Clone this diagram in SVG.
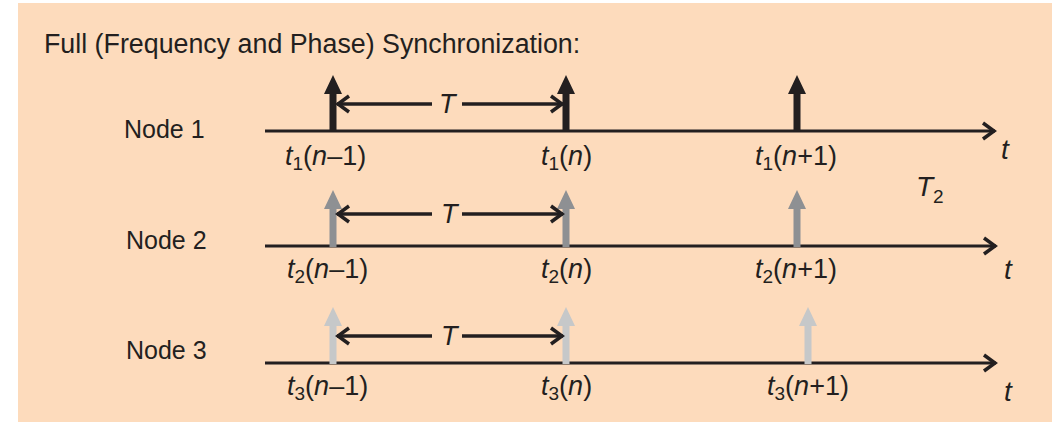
<svg xmlns="http://www.w3.org/2000/svg" width="1052" height="422" viewBox="0 0 1052 422">
<defs>
<style>
text{font-family:"Liberation Sans",Arial,sans-serif;fill:#231F20}
.title{font-size:26.8px}
.node{font-size:25px}
.lab{font-size:27px}
.big{font-size:28px}
.it{font-style:italic}
.sub{font-size:19px}
.axis{stroke:#231F20;stroke-width:3;fill:none}
.per{stroke:#231F20;stroke-width:3.5;fill:none}
.p1{fill:#231F20}
.p2{fill:#8E9093}
.p3{fill:#C6C8C9}
</style>
<marker id="chev" viewBox="0 0 16 20" refX="14" refY="10" markerWidth="16" markerHeight="20" markerUnits="userSpaceOnUse" orient="auto-start-reverse">
<path d="M2,2 L13,10 L2,18" fill="none" stroke="#231F20" stroke-width="3.5" stroke-linejoin="miter"/>
</marker>
<symbol id="pulse" overflow="visible">
<path d="M-3.5,0 V-38 H-9 L0,-57 L9,-38 H3.5 V0 Z"/>
</symbol>
</defs>
<rect x="18" y="3" width="1034" height="419" fill="#FDDBBC"/>
<text class="title" x="44" y="53">Full (Frequency and Phase) Synchronization:</text>

<g id="axes">
<line class="axis" x1="265" y1="131" x2="995" y2="131" marker-end="url(#chev)"/>
<line class="axis" x1="265" y1="246" x2="996" y2="246" marker-end="url(#chev)"/>
<line class="axis" x1="265" y1="363" x2="996" y2="363" marker-end="url(#chev)"/>
</g>

<g id="node1">
<text class="node" x="124" y="138">Node 1</text>
<use href="#pulse" class="p1" x="333" y="132"/>
<use href="#pulse" class="p1" x="566" y="132"/>
<use href="#pulse" class="p1" x="797" y="132"/>
<text class="lab" x="285" y="165"><tspan class="it">t</tspan><tspan class="sub" dy="5">1</tspan><tspan dy="-5">(</tspan><tspan class="it">n</tspan>–1)</text>
<text class="lab" x="541" y="165"><tspan class="it">t</tspan><tspan class="sub" dy="5">1</tspan><tspan dy="-5">(</tspan><tspan class="it">n</tspan>)</text>
<text class="lab" x="755" y="165"><tspan class="it">t</tspan><tspan class="sub" dy="5">1</tspan><tspan dy="-5">(</tspan><tspan class="it">n</tspan>+1)</text>
<text class="big it" x="1001" y="159">t</text>
</g>

<text class="big" x="916" y="196"><tspan class="it">T</tspan><tspan class="sub" dy="7">2</tspan></text>

<g id="node2">
<text class="node" x="126" y="249">Node 2</text>
<use href="#pulse" class="p2" x="333" y="247"/>
<use href="#pulse" class="p2" x="566" y="247"/>
<use href="#pulse" class="p2" x="797" y="247"/>
<text class="lab" x="287" y="278"><tspan class="it">t</tspan><tspan class="sub" dy="5">2</tspan><tspan dy="-5">(</tspan><tspan class="it">n</tspan>–1)</text>
<text class="lab" x="541" y="278"><tspan class="it">t</tspan><tspan class="sub" dy="5">2</tspan><tspan dy="-5">(</tspan><tspan class="it">n</tspan>)</text>
<text class="lab" x="755" y="278"><tspan class="it">t</tspan><tspan class="sub" dy="5">2</tspan><tspan dy="-5">(</tspan><tspan class="it">n</tspan>+1)</text>
<text class="big it" x="1004" y="279">t</text>
</g>

<g id="node3">
<text class="node" x="126" y="359">Node 3</text>
<use href="#pulse" class="p3" x="333" y="364"/>
<use href="#pulse" class="p3" x="566" y="364"/>
<use href="#pulse" class="p3" x="808" y="364"/>
<text class="lab" x="287" y="395"><tspan class="it">t</tspan><tspan class="sub" dy="5">3</tspan><tspan dy="-5">(</tspan><tspan class="it">n</tspan>–1)</text>
<text class="lab" x="541" y="395"><tspan class="it">t</tspan><tspan class="sub" dy="5">3</tspan><tspan dy="-5">(</tspan><tspan class="it">n</tspan>)</text>
<text class="lab" x="767" y="395"><tspan class="it">t</tspan><tspan class="sub" dy="5">3</tspan><tspan dy="-5">(</tspan><tspan class="it">n</tspan>+1)</text>
<text class="big it" x="1004" y="401">t</text>
</g>

<g id="connectors">
<line class="per" x1="432" y1="104" x2="337" y2="104" marker-end="url(#chev)"/>
<line class="per" x1="462" y1="104" x2="563" y2="104" marker-end="url(#chev)"/>
<text class="lab it" x="439" y="113">T</text>
<line class="per" x1="432" y1="214" x2="337" y2="214" marker-end="url(#chev)"/>
<line class="per" x1="462" y1="214" x2="563" y2="214" marker-end="url(#chev)"/>
<text class="lab it" x="441" y="223">T</text>
<line class="per" x1="432" y1="336" x2="337" y2="336" marker-end="url(#chev)"/>
<line class="per" x1="462" y1="336" x2="563" y2="336" marker-end="url(#chev)"/>
<text class="lab it" x="441" y="345">T</text>
</g>
</svg>
